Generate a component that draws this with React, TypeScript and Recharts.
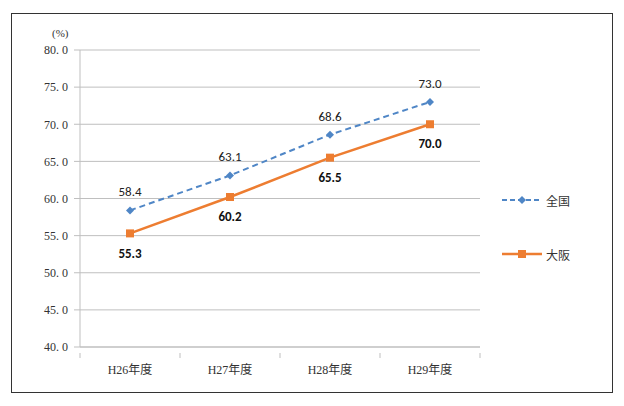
import { LineChart, Line, XAxis, YAxis, CartesianGrid, LabelList } from "recharts"

const years = ["H26年度", "H27年度", "H28年度", "H29年度"]
const zenkoku = [58.4, 63.1, 68.6, 73.0]
const osaka = [55.3, 60.2, 65.5, 70.0]
const yTicks = [40, 45, 50, 55, 60, 65, 70, 75, 80]

const data = years.map((y, i) => ({ year: y, zenkoku: zenkoku[i], osaka: osaka[i] }))

const BLUE = "#4F86C6"
const ORANGE = "#ED7D31"
const serif = "'Liberation Serif', 'Noto Sans CJK JP', serif"
const sans = "Carlito, 'Liberation Sans', 'Open Sans', sans-serif"

const W = 600
const H = 378
const MARGIN = { top: 36, right: 132, bottom: 15, left: 8 }
const Y_WIDTH = 60
const BAND = (W - MARGIN.left - MARGIN.right - Y_WIDTH) / years.length

const Diamond = (props: any) => {
  const { cx, cy } = props
  if (cx == null || cy == null) return null
  return <path d={`M${cx},${cy - 4}L${cx + 4},${cy}L${cx},${cy + 4}L${cx - 4},${cy}Z`} fill={BLUE} />
}

const Square = (props: any) => {
  const { cx, cy } = props
  if (cx == null || cy == null) return null
  return <rect x={cx - 4} y={cy - 4} width={8} height={8} fill={ORANGE} />
}

// category label plus tick marks on the band boundaries
const XTick = (props: any) => {
  const { x, y, payload, index } = props
  const axisY = y - 8
  return (
    <g>
      <line x1={x - BAND / 2} y1={axisY} x2={x - BAND / 2} y2={axisY + 5} stroke="#BFBFBF" />
      {index === years.length - 1 && (
        <line x1={x + BAND / 2} y1={axisY} x2={x + BAND / 2} y2={axisY + 5} stroke="#BFBFBF" />
      )}
      <text x={x} y={y + 13} textAnchor="middle" fontFamily={serif} fontSize={12} fill="#333">
        {payload.value}
      </text>
    </g>
  )
}

function LegendBox() {
  return (
    <div
      style={{
        position: "absolute",
        left: 490,
        top: 176,
        fontFamily: "'Noto Sans CJK JP', sans-serif",
        fontSize: 12,
        color: "#333",
      }}
    >
      <div style={{ display: "flex", alignItems: "center", height: 20 }}>
        <svg width={40} height={10}>
          <line x1={0} y1={5} x2={40} y2={5} stroke={BLUE} strokeWidth={2} strokeDasharray="5 3" />
          <path d="M20,1L24,5L20,9L16,5Z" fill={BLUE} />
        </svg>
        <span style={{ marginLeft: 4 }}>全国</span>
      </div>
      <div style={{ display: "flex", alignItems: "center", height: 20, marginTop: 34 }}>
        <svg width={40} height={10}>
          <line x1={0} y1={5} x2={40} y2={5} stroke={ORANGE} strokeWidth={2.5} />
          <rect x={16} y={1} width={8} height={8} fill={ORANGE} />
        </svg>
        <span style={{ marginLeft: 4 }}>大阪</span>
      </div>
    </div>
  )
}

export default function App() {
  return (
    <div
      style={{
        marginLeft: 3,
        marginTop: 5,
        width: W,
        height: H,
        border: "1.5px solid #333",
        position: "relative",
        background: "#fff",
      }}
    >
      <div style={{ position: "absolute", left: 40, top: 13, fontFamily: serif, fontSize: 11, color: "#333" }}>
        (%)
      </div>
      <LineChart width={W} height={H} data={data} margin={MARGIN}>
        <CartesianGrid vertical={false} stroke="#BFBFBF" strokeWidth={1} />
        <XAxis
          dataKey="year"
          scale="band"
          height={30}
          tickLine={false}
          axisLine={{ stroke: "#BFBFBF" }}
          tickMargin={8}
          interval={0}
          tick={<XTick />}
        />
        <YAxis
          domain={[40, 80]}
          ticks={yTicks}
          interval={0}
          width={Y_WIDTH}
          tickSize={6}
          tickMargin={6}
          tickLine={{ stroke: "#BFBFBF" }}
          axisLine={{ stroke: "#BFBFBF" }}
          tickFormatter={(v: number) => v.toFixed(1).replace(".", ". ")}
          tick={{ fontFamily: serif, fontSize: 12, fill: "#333" }}
        />
        <Line
          dataKey="zenkoku"
          stroke={BLUE}
          strokeWidth={2}
          strokeDasharray="6 4"
          dot={<Diamond />}
          isAnimationActive={false}
        >
          <LabelList
            dataKey="zenkoku"
            position="top"
            offset={14}
            formatter={(v: any) => Number(v).toFixed(1)}
            style={{ fontFamily: sans, fontSize: 13, fill: "#222" }}
          />
        </Line>
        <Line dataKey="osaka" stroke={ORANGE} strokeWidth={2.5} dot={<Square />} isAnimationActive={false}>
          <LabelList
            dataKey="osaka"
            position="bottom"
            offset={15}
            formatter={(v: any) => Number(v).toFixed(1)}
            style={{ fontFamily: sans, fontSize: 13, fontWeight: 700, fill: "#111" }}
          />
        </Line>
      </LineChart>
      <LegendBox />
    </div>
  )
}
